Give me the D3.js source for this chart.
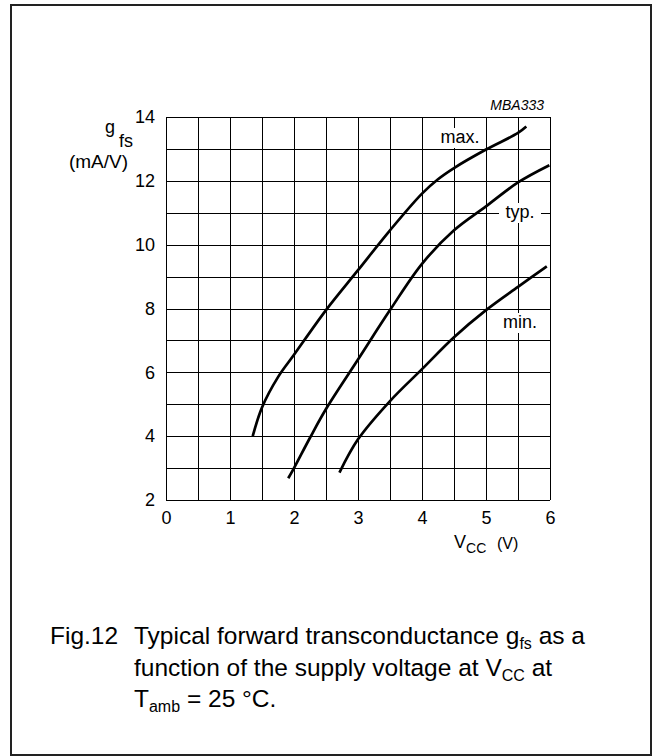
<!DOCTYPE html>
<html>
<head>
<meta charset="utf-8">
<script src="https://cdn.jsdelivr.net/npm/d3@7/dist/d3.min.js"></script>
<style>
  body { margin: 0; background: #fff; }
  svg text { font-family: "Liberation Sans", Arial, Helvetica, sans-serif; fill: #000; }
</style>
</head>
<body>
<svg id="chart" width="652" height="756"></svg>
<script>
// supply voltage V_CC (V) and gfs (mA/V)
var vccMax = [1.355, 1.5, 1.75, 2.0, 2.5, 3.0, 3.5, 4.0, 4.25, 4.5, 5.0, 5.5, 5.63];
var gfsMax = [4.0, 4.9, 5.85, 6.55, 7.95, 9.2, 10.45, 11.6, 12.05, 12.4, 12.98, 13.5, 13.7];

var vccTyp = [1.91, 2.0, 2.25, 2.5, 3.0, 3.5, 4.0, 4.5, 5.0, 5.5, 5.99];
var gfsTyp = [2.68, 3.0, 3.95, 4.85, 6.4, 7.95, 9.4, 10.45, 11.2, 11.95, 12.49];

var vccMin = [2.71, 3.0, 3.5, 4.0, 4.5, 5.0, 5.5, 5.95];
var gfsMin = [2.86, 3.9, 5.1, 6.1, 7.1, 7.95, 8.68, 9.32];

var xTicks = [0, 1, 2, 3, 4, 5, 6];
var yTicks = [2, 4, 6, 8, 10, 12, 14];
var xGrid = d3.range(0, 6.01, 0.5);
var yGrid = d3.range(2, 14.01, 1);

var svg = d3.select("#chart");

// outer frame
svg.append("rect")
  .attr("x", 11).attr("y", 5)
  .attr("width", 640).attr("height", 750)
  .attr("fill", "none")
  .attr("stroke", "#222")
  .attr("stroke-width", 2);

var x = d3.scaleLinear().domain([0, 6]).range([166, 550]);
var y = d3.scaleLinear().domain([2, 14]).range([500, 117]);

// grid
var grid = svg.append("g");
grid.selectAll("line.v").data(xGrid).enter().append("line")
  .attr("x1", function(d) { return Math.round(x(d)) + 0.5; })
  .attr("x2", function(d) { return Math.round(x(d)) + 0.5; })
  .attr("y1", y(2)).attr("y2", y(14))
  .attr("stroke", "#000").attr("stroke-width", 1);
grid.selectAll("line.h").data(yGrid).enter().append("line")
  .attr("y1", function(d) { return Math.round(y(d)) + 0.5; })
  .attr("y2", function(d) { return Math.round(y(d)) + 0.5; })
  .attr("x1", x(0)).attr("x2", x(6))
  .attr("stroke", "#000").attr("stroke-width", 1);

// tick labels via axes
var xAxis = svg.append("g")
  .attr("transform", "translate(0," + y(2) + ")")
  .call(d3.axisBottom(x).tickValues(xTicks).tickSize(0).tickPadding(11).tickFormat(d3.format("d")));
var yAxis = svg.append("g")
  .attr("transform", "translate(" + x(0) + ",0)")
  .call(d3.axisLeft(y).tickValues(yTicks).tickSize(0).tickPadding(11).tickFormat(d3.format("d")));
[xAxis, yAxis].forEach(function(a) {
  a.select(".domain").remove();
  a.selectAll("text").attr("font-size", 18).attr("font-family", null);
});

// curves
var line = d3.line()
  .x(function(d) { return x(d[0]); })
  .y(function(d) { return y(d[1]); })
  .curve(d3.curveCatmullRom.alpha(0.5));

[[vccMax, gfsMax], [vccTyp, gfsTyp], [vccMin, gfsMin]].forEach(function(s) {
  svg.append("path")
    .datum(d3.zip(s[0], s[1]))
    .attr("d", line)
    .attr("fill", "none")
    .attr("stroke", "#000")
    .attr("stroke-width", 2.7);
});

// curve labels with white backing
function curveLabel(txt, cx, base, w) {
  svg.append("rect")
    .attr("x", cx - w / 2).attr("y", base - 15)
    .attr("width", w).attr("height", 20)
    .attr("fill", "#fff");
  svg.append("text")
    .attr("x", cx).attr("y", base)
    .attr("text-anchor", "middle")
    .attr("font-size", 18)
    .text(txt);
}
curveLabel("max.", 460, 143, 42);
curveLabel("typ.", 520, 218, 42);
curveLabel("min.", 520, 328, 38);

// figure code
svg.append("text")
  .attr("x", 544).attr("y", 110)
  .attr("text-anchor", "end")
  .attr("font-size", 14)
  .attr("font-style", "italic")
  .text("MBA333");

// y title
svg.append("text").attr("x", 105).attr("y", 133).attr("font-size", 18).text("g");
svg.append("text").attr("x", 119).attr("y", 147).attr("font-size", 18).text("fs");
svg.append("text").attr("x", 128).attr("y", 168).attr("text-anchor", "end")
  .attr("font-size", 19).text("(mA/V)");

// x title
var xt = svg.append("text").attr("x", 454).attr("y", 548).attr("font-size", 18);
xt.append("tspan").text("V");
xt.append("tspan").attr("font-size", 14).attr("dy", 5).text("CC");
svg.append("text").attr("x", 497).attr("y", 549).attr("font-size", 16).text("(V)");

// caption
var cap = svg.append("g");
cap.append("text").attr("x", 50).attr("y", 644).attr("font-size", 24.5).text("Fig.12");
var l1 = cap.append("text").attr("x", 134).attr("y", 644).attr("font-size", 24.5);
l1.append("tspan").text("Typical forward transconductance g");
l1.append("tspan").attr("font-size", 16).attr("dy", 5).text("fs");
l1.append("tspan").attr("dy", -5).text(" as a");
var l2 = cap.append("text").attr("x", 134).attr("y", 676).attr("font-size", 24.5);
l2.append("tspan").text("function of the supply voltage at V");
l2.append("tspan").attr("font-size", 16).attr("dy", 5).text("CC");
l2.append("tspan").attr("dy", -5).text(" at");
var l3 = cap.append("text").attr("x", 134).attr("y", 707).attr("font-size", 24.5);
l3.append("tspan").text("T");
l3.append("tspan").attr("font-size", 16).attr("dy", 5).text("amb");
l3.append("tspan").attr("dy", -5).text(" = 25 \u00B0C.");
</script>
</body>
</html>
